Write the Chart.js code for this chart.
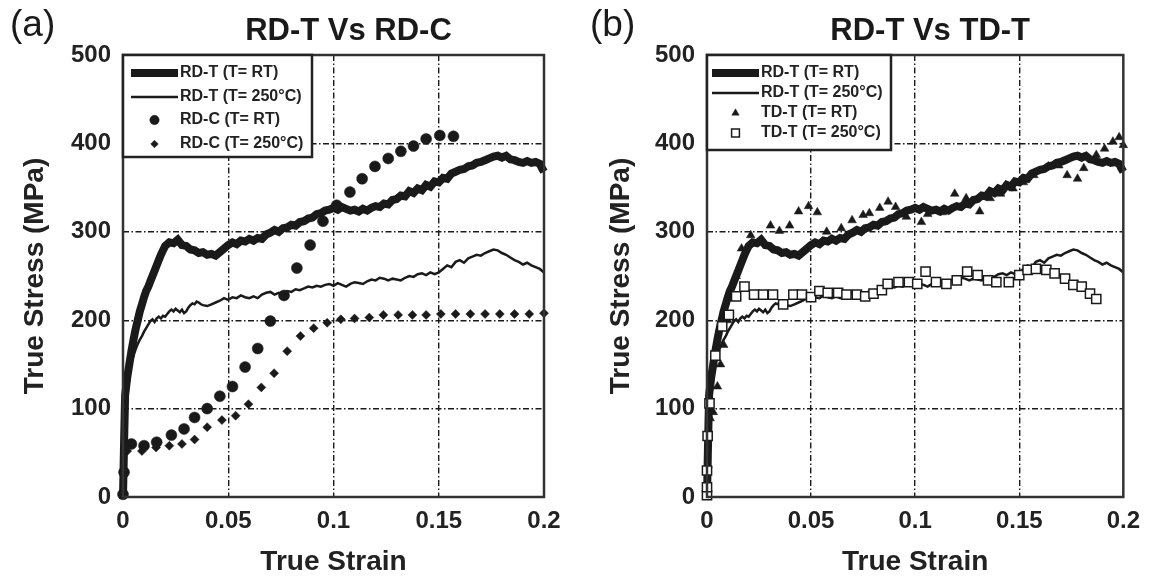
<!DOCTYPE html>
<html>
<head>
<meta charset="utf-8">
<script src="https://cdn.jsdelivr.net/npm/chart.js@4.4.1/dist/chart.umd.min.js"></script>
<style>
  html, body { margin: 0; padding: 0; background: #fff; }
  #wrap { position: relative; width: 1150px; height: 582px; }
  canvas { position: absolute; top: 0; }
  #chart-a { left: 0; }
  #chart-b { left: 575px; }
</style>
</head>
<body>
<div id="wrap">
  <canvas id="chart-a" width="575" height="582"></canvas>
  <canvas id="chart-b" width="575" height="582"></canvas>
</div>
<script>
const xTicks = [0, 0.05, 0.1, 0.15, 0.2];
const yTicks = [0, 100, 200, 300, 400, 500];
const panelTags = ['(a)', '(b)'];
const panelTitles = ['RD-T Vs RD-C', 'RD-T Vs TD-T'];

// RD-T at room temperature (thick line, same curve in both panels)
const rdtRtStrain = [
  0, 0.0005, 0.001, 0.002, 0.003, 0.004, 0.005, 0.006, 0.007, 0.008,
  0.009, 0.010, 0.011, 0.012, 0.013, 0.014, 0.015, 0.016, 0.017, 0.018,
  0.019, 0.020, 0.022, 0.024, 0.026, 0.028, 0.030, 0.032, 0.034, 0.036,
  0.038, 0.040, 0.042, 0.044, 0.046, 0.048, 0.050, 0.052, 0.054, 0.056,
  0.058, 0.060, 0.062, 0.064, 0.066, 0.068, 0.070, 0.072, 0.074, 0.076,
  0.078, 0.080, 0.082, 0.084, 0.086, 0.088, 0.090, 0.092, 0.094, 0.096,
  0.098, 0.100, 0.102, 0.104, 0.106, 0.108, 0.110, 0.112, 0.114, 0.116,
  0.118, 0.120, 0.122, 0.124, 0.126, 0.128, 0.130, 0.132, 0.134, 0.136,
  0.138, 0.140, 0.142, 0.144, 0.146, 0.148, 0.150, 0.152, 0.154, 0.156,
  0.158, 0.160, 0.162, 0.164, 0.166, 0.168, 0.170, 0.172, 0.174, 0.176,
  0.178, 0.180, 0.182, 0.184, 0.186, 0.188, 0.190, 0.192, 0.194, 0.196,
  0.198, 0.199, 0.200
];
const rdtRtStress = [
  0, 60, 115, 135, 150, 165, 178, 190, 200, 210,
  218, 226, 233, 238, 244, 250, 256, 262, 268, 274,
  279, 284, 288, 287, 291, 285, 284, 280, 279, 276,
  277, 274, 275, 273, 277, 281, 285, 288, 286, 290,
  289, 292, 290, 293, 292, 297, 299, 302, 300, 304,
  305, 308, 307, 311, 312, 315, 316, 320, 321, 324,
  325, 327, 325, 328, 326, 324, 325, 323, 326, 324,
  327, 329, 328, 332, 331, 336, 337, 341, 340, 346,
  344, 349, 347, 353, 351, 357, 356, 361, 360, 366,
  368, 370, 371, 374, 375, 378, 379, 381, 383, 385,
  386, 384, 386, 382, 381, 379, 378, 380, 378, 379,
  377, 372, 368
];

// RD-T at 250 C (thin line, same curve in both panels)
const rdt250Strain = [
  0, 0.0005, 0.001, 0.002, 0.003, 0.004, 0.005, 0.006, 0.007, 0.008,
  0.009, 0.010, 0.011, 0.012, 0.013, 0.014, 0.015, 0.016, 0.017, 0.018,
  0.019, 0.020, 0.021, 0.022, 0.023, 0.024, 0.025, 0.026, 0.027, 0.028,
  0.029, 0.030, 0.031, 0.032, 0.033, 0.034, 0.035, 0.036, 0.037, 0.038,
  0.040, 0.042, 0.044, 0.046, 0.048, 0.050, 0.052, 0.054, 0.056, 0.058,
  0.060, 0.062, 0.064, 0.066, 0.068, 0.070, 0.072, 0.074, 0.076, 0.078,
  0.080, 0.082, 0.084, 0.086, 0.088, 0.090, 0.092, 0.094, 0.096, 0.098,
  0.100, 0.102, 0.104, 0.106, 0.108, 0.110, 0.112, 0.114, 0.116, 0.118,
  0.120, 0.122, 0.124, 0.126, 0.128, 0.130, 0.132, 0.134, 0.136, 0.138,
  0.140, 0.142, 0.144, 0.146, 0.148, 0.150, 0.152, 0.154, 0.156, 0.158,
  0.160, 0.162, 0.164, 0.166, 0.168, 0.170, 0.172, 0.174, 0.176, 0.178,
  0.180, 0.182, 0.184, 0.186, 0.188, 0.190, 0.192, 0.194, 0.196, 0.198,
  0.200
];
const rdt250Stress = [
  0, 55, 105, 128, 142, 152, 160, 167, 173, 178,
  182, 187, 191, 195, 199, 201, 198, 202, 204, 202,
  205, 204, 207, 210, 212, 210, 213, 211, 209, 212,
  208, 210, 214, 217, 219, 218, 221, 220, 218, 217,
  216, 218, 220, 222, 225, 223, 226, 225, 228, 226,
  225, 227, 225, 229, 231, 232, 229, 231, 230, 233,
  232, 235, 234, 236, 238, 237, 239, 238, 240, 241,
  239, 242, 240, 238, 241, 243, 242, 241, 244, 246,
  245, 248, 247, 245, 247, 246, 245, 248, 250, 249,
  252, 253, 251, 254, 252, 254, 258, 262, 260, 266,
  268, 265, 270, 272, 274, 273, 276, 278, 280, 279,
  276, 274, 271, 268, 266, 263, 265, 262, 260, 258,
  254
];

// RD-C at room temperature (circles)
const rdcRtStrain = [0, 0.0005, 0.004, 0.010, 0.016, 0.023, 0.029, 0.034, 0.040, 0.046,
  0.052, 0.058, 0.064, 0.070, 0.0765, 0.0826, 0.0889, 0.095, 0.1015, 0.1078,
  0.1136, 0.1197, 0.126, 0.132, 0.138, 0.144, 0.1505, 0.157];
const rdcRtStress = [3, 28, 60, 58, 62, 70, 77, 90, 100, 114,
  125, 147, 168, 199, 228, 259, 285, 312, 330, 345,
  360, 374, 383, 391, 397, 405, 409, 408];

// RD-C at 250 C (diamonds)
const rdc250Strain = [0, 0.0005, 0.002, 0.009, 0.0157, 0.022, 0.028, 0.034, 0.040, 0.047,
  0.0535, 0.0596, 0.0657, 0.0718, 0.078, 0.0843, 0.0906, 0.097, 0.1035, 0.110,
  0.117, 0.1237, 0.1307, 0.1375, 0.144, 0.151, 0.158, 0.165, 0.172, 0.179,
  0.186, 0.193, 0.200];
const rdc250Stress = [5, 30, 52, 52, 56, 58, 60, 65, 79, 87,
  92, 105, 124, 140, 165, 182, 191, 197, 201, 202,
  203, 206, 206, 206, 206, 207, 207, 207, 207, 207,
  207, 207, 208];

// TD-T at room temperature (triangles)
const tdtRtStrain = [0, 0.0005, 0.0015, 0.003, 0.005, 0.0065, 0.008, 0.010, 0.012, 0.014,
  0.0166, 0.021, 0.025, 0.0305, 0.0348, 0.0397, 0.044, 0.0488, 0.053, 0.0575,
  0.0645, 0.0697, 0.075, 0.078, 0.083, 0.087, 0.0906, 0.0958, 0.103, 0.106,
  0.113, 0.119, 0.1245, 0.131, 0.136, 0.141, 0.147, 0.152, 0.157, 0.164,
  0.169, 0.173, 0.178, 0.181, 0.187, 0.191, 0.195, 0.198, 0.200];
const tdtRtStress = [5, 36, 89, 96, 125, 150, 172, 200, 225, 250,
  281, 296, 288, 307, 301, 307, 323, 329, 322, 300,
  304, 313, 319, 321, 327, 334, 328, 317, 311, 320,
  322, 343, 338, 323, 338, 343, 349, 356, 364, 374,
  375, 364, 360, 372, 387, 394, 402, 407, 398];

// TD-T at 250 C (open squares)
const tdt250Strain = [0, 0, 0, 0.0003, 0.0012, 0.004, 0.0073, 0.0105, 0.014, 0.018,
  0.0226, 0.027, 0.0317, 0.0366, 0.0415, 0.0456, 0.050, 0.054, 0.058, 0.063,
  0.067, 0.072, 0.076, 0.080, 0.084, 0.0868, 0.092, 0.097, 0.101, 0.105,
  0.110, 0.115, 0.120, 0.125, 0.130, 0.135, 0.139, 0.145, 0.150, 0.154,
  0.158, 0.163, 0.167, 0.172, 0.176, 0.180, 0.184, 0.187];
const tdt250Stress = [2, 11, 30, 69, 106, 160, 193, 206, 227, 238,
  229, 229, 229, 218, 229, 229, 226, 233, 231, 231,
  229, 229, 227, 230, 234, 241, 243, 243, 241, 255,
  243, 241, 245, 255, 251, 245, 243, 243, 251, 257,
  258, 257, 253, 247, 240, 238, 230, 224];

const FONT = '"Liberation Sans", Arial, sans-serif';
const INK = '#1a1a1a';

function pts(xs, ys) {
  return xs.map((x, i) => ({ x, y: ys[i] }));
}

function thickLine(label, order) {
  return { label, data: pts(rdtRtStrain, rdtRtStress), showLine: true, borderColor: INK,
    borderWidth: 8, pointRadius: 0, order, clip: false };
}
function thinLine(label, order) {
  return { label, data: pts(rdt250Strain, rdt250Stress), showLine: true, borderColor: INK,
    borderWidth: 2.5, pointRadius: 0, order, clip: false };
}
function markers(label, xs, ys, style, radius, fill, order) {
  return { label, data: pts(xs, ys), showLine: false, pointStyle: style, pointRadius: radius,
    pointBackgroundColor: fill, pointBorderColor: INK, pointBorderWidth: fill === '#fff' ? 1.5 : 0.5,
    order, clip: false };
}

// frame, panel tag, title and the boxed legend
const decor = {
  id: 'decor',
  afterDraw(chart, args, opts) {
    const { ctx, chartArea: a } = chart;
    ctx.save();
    ctx.strokeStyle = '#333';
    ctx.lineWidth = 2.5;
    ctx.strokeRect(a.left, a.top, a.right - a.left, a.bottom - a.top);

    ctx.fillStyle = INK;
    ctx.textBaseline = 'alphabetic';
    ctx.textAlign = 'left';
    ctx.font = '37px ' + FONT;
    ctx.fillText(opts.tag, opts.tagX, 36);
    ctx.textAlign = 'center';
    ctx.font = 'bold 31px ' + FONT;
    ctx.fillText(opts.title, (a.left + a.right) / 2 + 15, 40);

    const L = opts.legend;
    const x = a.left, y = a.top;
    ctx.fillStyle = '#fff';
    ctx.fillRect(x, y, L.w, L.h);
    ctx.strokeStyle = '#222';
    ctx.lineWidth = 2.5;
    ctx.strokeRect(x, y, L.w, L.h);
    chart.data.datasets.forEach((ds, i) => {
      const ry = y + L.rows[i];
      if (ds.showLine) {
        ctx.beginPath();
        ctx.lineWidth = ds.borderWidth;
        ctx.strokeStyle = ds.borderColor;
        ctx.moveTo(x + L.x0, ry);
        ctx.lineTo(x + L.x1, ry);
        ctx.stroke();
      } else {
        ctx.fillStyle = ds.pointBackgroundColor;
        ctx.strokeStyle = ds.pointBorderColor;
        ctx.lineWidth = ds.pointBorderWidth;
        Chart.helpers.drawPoint(ctx, { pointStyle: ds.pointStyle, radius: ds.pointRadius * 0.85,
          rotation: 0, borderWidth: ds.pointBorderWidth }, x + (L.x0 + L.x1) / 2, ry);
      }
      ctx.fillStyle = '#222';
      ctx.textAlign = 'left';
      ctx.textBaseline = 'middle';
      ctx.font = 'bold 16px ' + FONT;
      ctx.fillText(ds.label, x + L.tx, ry);
    });
    ctx.restore();
  }
};

function makeChart(id, datasets, p) {
  return new Chart(document.getElementById(id), {
    type: 'scatter',
    data: { datasets },
    options: {
      responsive: false,
      animation: false,
      layout: { padding: { top: 55, right: p.right, left: 0, bottom: 0 } },
      scales: {
        x: {
          type: 'linear', min: 0, max: 0.2,
          afterBuildTicks: s => { s.ticks = xTicks.map(v => ({ value: v })); },
          afterFit: s => { s.height = 85; },
          ticks: { autoSkip: false, padding: 10, color: '#222', font: { family: FONT, size: 24, weight: 'bold' },
            callback: v => String(v) },
          grid: { color: c => (c.index === 0 || c.index === xTicks.length - 1) ? 'rgba(0,0,0,0)' : INK,
            lineWidth: 1.4, drawTicks: false },
          border: { display: false, dash: [6, 2.5, 1.5, 2.5] },
          title: { display: true, text: 'True Strain', color: '#222',
            font: { family: FONT, size: 28, weight: 'bold' }, padding: { top: 0, bottom: 3 } }
        },
        y: {
          type: 'linear', min: 0, max: 500,
          afterBuildTicks: s => { s.ticks = yTicks.map(v => ({ value: v })); },
          afterFit: s => { s.width = p.left; },
          ticks: { padding: 12, color: '#222', font: { family: FONT, size: 24, weight: 'bold' } },
          grid: { color: c => (c.index === 0 || c.index === yTicks.length - 1) ? 'rgba(0,0,0,0)' : INK,
            lineWidth: 1.4, drawTicks: false },
          border: { display: false, dash: [6, 2.5, 1.5, 2.5] },
          title: { display: true, text: 'True Stress (MPa)', color: '#222',
            font: { family: FONT, size: 28, weight: 'bold' }, padding: { top: p.yTitlePad, bottom: 0 } }
        }
      },
      plugins: {
        legend: { display: false },
        title: { display: false },
        tooltip: { enabled: false },
        decor: { tag: p.tag, tagX: p.tagX, title: p.title, legend: p.legend }
      }
    },
    plugins: [decor]
  });
}

makeChart('chart-a', [
  thickLine('RD-T (T= RT)', 0),
  thinLine('RD-T (T= 250°C)', 1),
  markers('RD-C (T= RT)', rdcRtStrain, rdcRtStress, 'circle', 5.5, INK, 2),
  markers('RD-C (T= 250°C)', rdc250Strain, rdc250Stress, 'rectRot', 4.5, INK, 3)
], {
  left: 123, right: 31, yTitlePad: 18, tag: panelTags[0], tagX: 10, title: panelTitles[0],
  legend: { w: 189, h: 102, x0: 8, x1: 55, tx: 57, rows: [18, 42, 65, 89] }
});

makeChart('chart-b', [
  thickLine('RD-T (T= RT)', 3),
  thinLine('RD-T (T= 250°C)', 2),
  markers('TD-T (T= RT)', tdtRtStrain, tdtRtStress, 'triangle', 5, INK, 1),
  markers('TD-T (T= 250°C)', tdt250Strain, tdt250Stress, 'rect', 6.5, '#fff', 0)
], {
  left: 132, right: 26, yTitlePad: 29, tag: panelTags[1], tagX: 15, title: panelTitles[1],
  legend: { w: 184, h: 95, x0: 5, x1: 52, tx: 54, rows: [18, 38, 58, 78] }
});
</script>
</body>
</html>
